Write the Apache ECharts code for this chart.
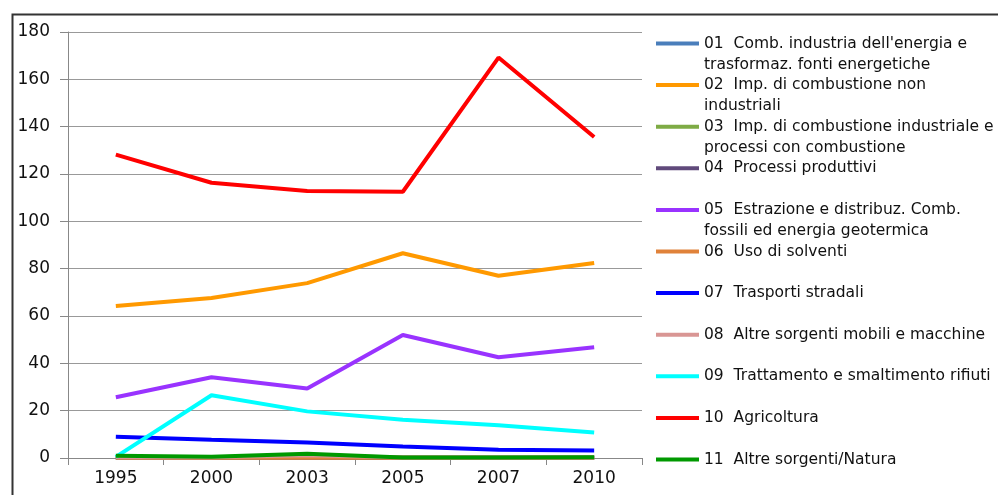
<!DOCTYPE html>
<html>
<head>
<meta charset="utf-8">
<script src="https://cdn.jsdelivr.net/npm/echarts@6/dist/echarts.min.js"></script>
<style>
  html, body { margin: 0; padding: 0; background: #fff; }
  #chart { width: 998px; height: 495px; }
</style>
</head>
<body>
<div id="chart"></div>
<script>
// Years on the category axis
const years = ['1995', '2000', '2003', '2005', '2007', '2010'];

// Emissions by source sector
const s01 = [0.2, 0.2, 0.2, 0.1, 0.1, 0.1];
const s02 = [64.2, 67.6, 73.9, 86.5, 77.0, 82.4];
const s03 = [0.3, 0.3, 0.3, 0.2, 0.2, 0.2];
const s04 = [0.1, 0.1, 0.1, 0.1, 0.1, 0.1];
const s05 = [25.7, 34.1, 29.4, 52.0, 42.6, 46.8];
const s06 = [0.1, 0.1, 0.1, 0.1, 0.1, 0.1];
const s07 = [9.0, 7.7, 6.6, 4.9, 3.5, 3.2];
const s08 = [0.3, 0.3, 1.2, 0.2, 0.2, 0.2];
const s09 = [0.5, 26.5, 19.7, 16.2, 13.8, 10.8];
const s10 = [128.2, 116.3, 112.8, 112.5, 169.2, 135.6];
const s11 = [1.0, 0.5, 1.8, 0.2, 0.2, 0.3];

// Legend names: first and second line of each label
const names = [
  ['01  Comb. industria dell\'energia e', 'trasformaz. fonti energetiche'],
  ['02  Imp. di combustione non', 'industriali'],
  ['03  Imp. di combustione industriale e', 'processi con combustione'],
  ['04  Processi produttivi', ''],
  ['05  Estrazione e distribuz. Comb.', 'fossili ed energia geotermica'],
  ['06  Uso di solventi', ''],
  ['07  Trasporti stradali', ''],
  ['08  Altre sorgenti mobili e macchine', ''],
  ['09  Trattamento e smaltimento rifiuti', ''],
  ['10  Agricoltura', ''],
  ['11  Altre sorgenti/Natura', '']
];

const values = [s01, s02, s03, s04, s05, s06, s07, s08, s09, s10, s11];
const colors = ['#4a7ebb', '#ff9900', '#7eab45', '#604a7b', '#9933ff',
                '#e0823a', '#0000ff', '#d99694', '#00ffff', '#ff0000', '#009900'];

const font = 'DejaVu Sans';
const LH = 21;

const chart = echarts.init(document.getElementById('chart'));
chart.setOption({
  animation: false,
  backgroundColor: '#fff',
  color: colors,
  graphic: [{
    type: 'rect',
    left: 10, top: 12,
    shape: { width: 1000, height: 500 },
    style: { fill: 'none', stroke: '#333', lineWidth: 2 },
    silent: true
  }],
  grid: { left: 68, right: 356, top: 32, bottom: 37, containLabel: false },
  legend: {
    orient: 'vertical',
    left: 656,
    top: 12,
    height: 1000,
    padding: 0,
    itemGap: 41.6 - 3 * LH,
    icon: 'rect',
    itemWidth: 43,
    itemHeight: 4,
    selectedMode: false,
    textStyle: { fontFamily: font, fontSize: 15.5, color: '#111', lineHeight: LH },
    formatter: function (name) {
      const n = names.find(function (p) { return p[0] === name; });
      return ' \n' + n[0] + '\n' + (n[1] || ' ');
    },
    data: names.map(function (p) { return p[0]; })
  },
  xAxis: {
    type: 'category',
    data: years,
    boundaryGap: true,
    axisLine: { lineStyle: { color: '#888', width: 1 } },
    axisTick: { show: true, length: 7, lineStyle: { color: '#888' } },
    axisLabel: { fontFamily: font, fontSize: 17, color: '#111', margin: 12 }
  },
  yAxis: {
    type: 'value',
    min: 0, max: 180, interval: 20,
    axisLine: { show: true, lineStyle: { color: '#888', width: 1 } },
    axisTick: { show: true, inside: false, length: 8, lineStyle: { color: '#888' } },
    axisLabel: { fontFamily: font, fontSize: 17, color: '#111', margin: 18 },
    splitLine: { lineStyle: { color: '#999', width: 1 } }
  },
  series: values.map(function (v, i) {
    return {
      name: names[i][0],
      type: 'line',
      data: v,
      symbol: 'none',
      lineStyle: { width: 4, color: colors[i] },
      itemStyle: { color: colors[i] },
      z: 2 + i
    };
  })
});
</script>
</body>
</html>
